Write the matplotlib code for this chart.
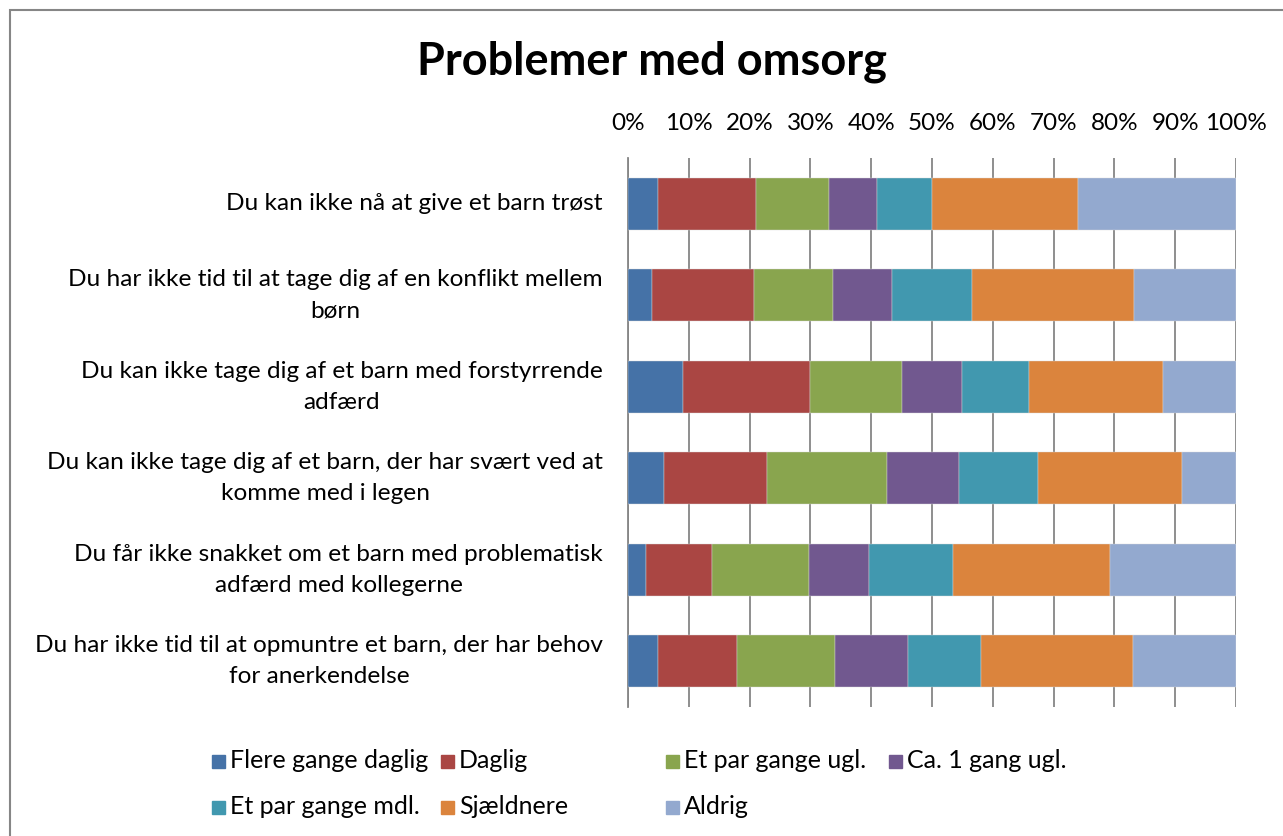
import matplotlib
matplotlib.use("Agg")
import matplotlib.pyplot as plt
from matplotlib.patches import Rectangle
import numpy as np

plt.rcParams['font.family'] = ['Lato', 'DejaVu Sans']

categories = [
    "Du kan ikke nå at give et barn trøst",
    "Du har ikke tid til at tage dig af en konflikt mellem\nbørn",
    "Du kan ikke tage dig af et barn med forstyrrende\nadfærd",
    "Du kan ikke tage dig af et barn, der har svært ved at\nkomme med i legen",
    "Du får ikke snakket om et barn med problematisk\nadfærd med kollegerne",
    "Du har ikke tid til at opmuntre et barn, der har behov\nfor anerkendelse",
]
series_names = ["Flere gange daglig", "Daglig", "Et par gange ugl.", "Ca. 1 gang ugl.",
                "Et par gange mdl.", "Sjældnere", "Aldrig"]
flere_gange_daglig = [5.0, 4.0, 9.0, 6.0, 3.0, 5.0]
daglig = [16.0, 16.8, 21.0, 16.8, 10.8, 13.0]
et_par_gange_ugl = [12.0, 12.9, 15.0, 19.8, 15.9, 16.0]
ca_1_gang_ugl = [8.0, 9.8, 10.0, 11.9, 9.9, 12.0]
et_par_gange_mdl = [9.0, 13.0, 11.0, 12.9, 13.9, 12.0]
sjaeldnere = [24.0, 26.7, 22.0, 23.8, 25.7, 25.0]
aldrig = [26.0, 16.8, 12.0, 8.8, 20.8, 17.0]
series_values = [flere_gange_daglig, daglig, et_par_gange_ugl, ca_1_gang_ugl,
                 et_par_gange_mdl, sjaeldnere, aldrig]
tick_labels = [f"{v}%" for v in range(0, 101, 10)]
colors = ["#4572A7", "#AA4643", "#89A54E", "#71588F", "#4198AF", "#DB843D", "#93A9CF"]

W, H = 1283, 836
fig = plt.figure(figsize=(W / 100, H / 100), dpi=100)

def fx(px):
    return px / W

def fy(py):
    return 1 - py / H

# chart area border
fig.add_artist(Rectangle((fx(10), fy(850)), fx(1300) - fx(10), fy(10) - fy(850),
                         transform=fig.transFigure, fill=False, edgecolor="#868686", lw=1.5))

ax = fig.add_axes([fx(628), fy(707), fx(1236) - fx(628), fy(158) - fy(707)])
y = np.arange(len(categories))
left = np.zeros(len(categories))
for name, vals, c in zip(series_names, series_values, colors):
    v = np.array(vals)
    ax.barh(y, v, left=left, height=0.565, color=c, label=name, zorder=3,
            edgecolor="#d9d9d9", linewidth=0.3)
    left += v

ax.set_xlim(0, 100)
ax.set_ylim(len(categories) - 0.5, -0.5)
ax.set_xticks(range(0, 101, 10))
ax.set_xticklabels(tick_labels)
ax.xaxis.tick_top()
ax.tick_params(axis='x', length=0, pad=17, labelsize=17.5)
ax.set_yticks(y)
ax.set_yticklabels(categories, fontsize=17.6, linespacing=1.57)
ax.tick_params(axis='y', length=0, pad=18)
for lbl in ax.get_yticklabels():
    lbl.set_horizontalalignment('right')
    lbl.set_multialignment('center')
    lbl.set_verticalalignment('center')
ax.grid(axis='x', color="#868686", lw=1.3, zorder=0)
for s in ['top', 'right', 'bottom']:
    ax.spines[s].set_visible(False)
ax.spines['left'].set_color("#868686")
ax.spines['left'].set_linewidth(1.3)

fig.text(fx(652), fy(62), "Problemer med omsorg", ha='center', va='center',
         fontsize=32.5, fontweight='bold')

# legend (row-major, uniform column spacing)
col_x = [212, 441, 666, 889]
row_y = [761, 807]
for i, (name, c) in enumerate(zip(series_names, colors)):
    cx = col_x[i % 4]
    cy = row_y[i // 4]
    fig.add_artist(Rectangle((fx(cx), fy(cy + 7)), fx(13), 13 / H,
                             transform=fig.transFigure, color=c))
    fig.text(fx(cx + 18), fy(cy), name, ha='left', va='center', fontsize=18)

fig.savefig("out.png", dpi=100)
